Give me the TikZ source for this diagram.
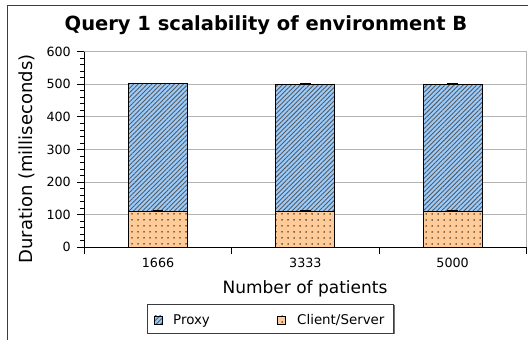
\documentclass[tikz,border=0pt]{standalone}
\usepackage{fontspec}
\setmainfont{DejaVu Sans}
\usetikzlibrary{patterns.meta}
\definecolor{proxyblue}{RGB}{153,204,255}
\definecolor{csorange}{RGB}{255,204,153}
\definecolor{gridgray}{RGB}{179,179,179}
\definecolor{framegray}{RGB}{60,60,60}

\tikzset{
  proxybar/.style={fill=proxyblue,
    postaction={pattern={Lines[angle=45,distance=3.2pt,line width=0.9pt]},pattern color=black!65},
    postaction={draw=black,line width=0.8pt}},
  csbar/.style={fill=csorange,
    postaction={pattern={Dots[distance=6pt,radius=0.75pt]},pattern color=black},
    postaction={draw=black,line width=0.8pt}},
  gridline/.style={gridgray,line width=0.8pt},
  axisline/.style={black,line width=0.8pt},
  errcap/.style={black,line width=1.5pt},
  ticklabel/.style={font=\fontsize{12.7}{14}\selectfont,inner sep=0pt},
  axistitle/.style={font=\fontsize{17}{19}\selectfont,inner sep=0pt},
  legendtext/.style={font=\fontsize{13.4}{15}\selectfont,inner sep=0pt,anchor=base west},
}

\begin{document}
\begin{tikzpicture}[x=1pt,y=1pt]
  \useasboundingbox (0,0) rectangle (528,340);

  % outer frame
  \draw[framegray,line width=0.8pt] (7,0) -- (7,335) -- (528,335);

  \node[font=\fontsize{19.5}{22}\selectfont\bfseries,inner sep=0pt,anchor=base] (title) at (266,309.3) {Query 1 scalability of environment B};

  % plot area
  \begin{scope}[shift={(84.4pt,92.7pt)},x=147.3pt,y=0.326pt]
    \foreach \v in {100,200,...,500}
      \draw[gridline] (0,\v) -- (3,\v);
    \draw[gridline] (0,600) -- (3,600) -- (3,0);

    % stacked bars
    \foreach \c/\lo/\hi in {0.5/110/502, 1.5/110/500, 2.5/111/500} {
      \path[csbar] (\c-0.2,0) rectangle (\c+0.2,\lo);
      \path[proxybar] (\c-0.2,\lo) rectangle (\c+0.2,\hi);
      \draw[errcap] (\c-0.035,\hi+1) -- (\c+0.035,\hi+1);
      \draw[errcap] (\c-0.035,\lo+1) -- (\c+0.035,\lo+1);
    }

    % axes
    \draw[axisline] (0,600) -- (0,0) -- (3,0);
    \foreach \v in {20,40,...,580}
      \draw[axisline] (0,\v) -- ++(-4pt,0);
    \foreach \v in {0,100,...,600} {
      \draw[axisline] (0,\v) -- ++(-7pt,0);
      \node[ticklabel,anchor=east] (yt\v) at ([xshift=-13.4pt]0,\v) {\v};
    }
    \foreach \c in {0,1,2,3}
      \draw[axisline] (\c,0) -- ++(0,-7pt);
    \foreach \c/\n in {0.5/1666, 1.5/3333, 2.5/5000}
      \node[ticklabel,anchor=base] (xt\n) at ([yshift=-20pt]\c,0) {\n};
  \end{scope}

  \node[axistitle,anchor=base] (xtitle) at (305,46) {Number of patients};
  \node[axistitle,anchor=base,rotate=90,font=\fontsize{18}{20}\selectfont] (ytitle) at (32,181) {Duration (milliseconds)};

  % legend
  \fill[black!55] (148.5,5.5) rectangle (394.5,34.5);
  \draw[framegray,fill=white,line width=0.8pt] (147,7) rectangle (393,36);
  \path[proxybar] (154.5,16) rectangle (162.5,24);
  \node[legendtext] (legproxy) at (173,15) {Proxy};
  \path[csbar] (277.5,16) rectangle (285.5,24);
  \node[legendtext] (legcs) at (297,15) {Client/Server};
\end{tikzpicture}
\end{document}
